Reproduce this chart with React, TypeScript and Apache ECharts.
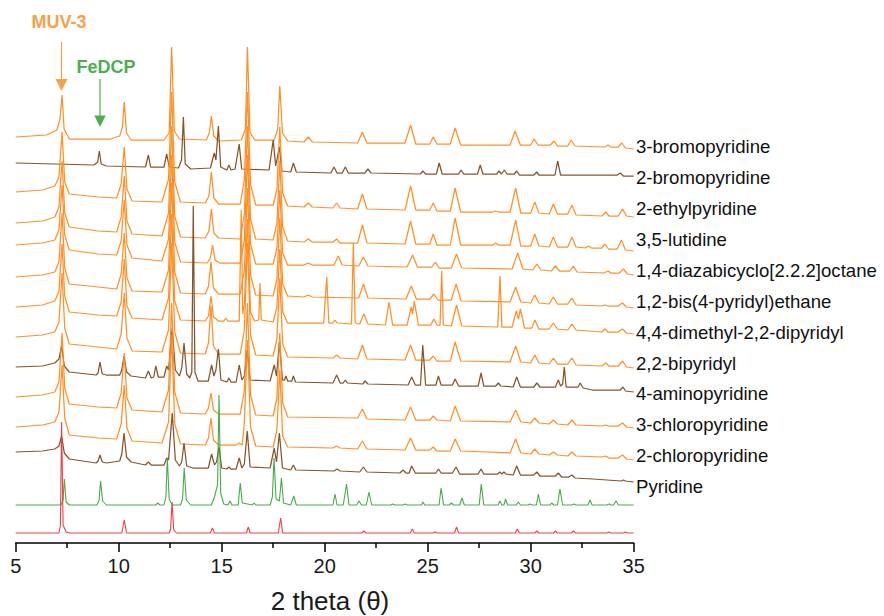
import React, { useEffect, useRef } from "react";
import * as echarts from "echarts";

// ---- data (2θ, intensity above each pattern's own zero) ----
const TRACE_NAMES = [
  "3-bromopyridine",
  "2-bromopyridine",
  "2-ethylpyridine",
  "3,5-lutidine",
  "1,4-diazabicyclo[2.2.2]octane",
  "1,2-bis(4-pyridyl)ethane",
  "4,4-dimethyl-2,2-dipyridyl",
  "2,2-bipyridyl",
  "4-aminopyridine",
  "3-chloropyridine",
  "2-chloropyridine",
  "Pyridine",
  "FeDCP (simulated)",
  "MUV-3 (simulated)",
];

// vertical stacking offset of each pattern (intensity units)
const OFFSETS = [394, 367, 326, 292, 268, 235, 209, 175, 151, 115, 83, 61, 38, 10];

const X_TICKS = [5, 10, 15, 20, 25, 30, 35];

const bromo3 = [
  5, 12, 6.5, 14, 7.0, 19, 7.15, 30, 7.25, 54, 7.35, 20, 7.6, 10, 9.6, 10,
  10.05, 13, 10.18, 22, 10.27, 47, 10.38, 16, 10.6, 9, 12.2, 9, 12.45, 16, 12.57, 102,
  12.7, 18, 12.95, 10, 14.25, 9, 14.4, 16, 14.5, 33, 14.62, 13, 14.85, 8, 15.95, 9,
  16.15, 20, 16.25, 102, 16.37, 17, 16.6, 9, 17.55, 9, 17.72, 20, 17.82, 63, 17.95, 16,
  18.2, 8, 19.0, 7, 19.2, 12, 19.4, 7, 21.6, 6, 21.83, 17, 22.05, 6, 23.9, 6,
  24.17, 24, 24.42, 5, 25.1, 5, 25.27, 12, 25.45, 5, 26.1, 5, 26.33, 21, 26.6, 4,
  29.0, 4, 29.24, 18, 29.5, 4, 30.0, 4, 30.17, 10, 30.35, 4, 30.95, 4, 31.14, 8,
  31.3, 3, 31.8, 3, 31.96, 9, 32.15, 3, 33.6, 2, 33.75, 4, 33.9, 2, 34.25, 2,
  34.42, 6, 34.6, 1, 35, 0,
];

const bromo2 = [
  5, 13, 8.8, 11, 8.98, 14, 9.06, 25, 9.15, 12, 9.4, 10, 11.3, 9, 11.44, 21,
  11.55, 9, 12.2, 9, 12.33, 22, 12.45, 9, 12.9, 8, 13.05, 16, 13.14, 59, 13.23, 12,
  13.5, 7, 14.45, 8, 14.64, 23, 14.72, 16, 14.84, 50, 14.95, 9, 15.25, 6, 15.35, 11,
  15.45, 6, 15.65, 7, 15.85, 32, 15.97, 7, 17.3, 6, 17.5, 36, 17.62, 10, 17.8, 29,
  17.92, 5, 18.35, 4, 18.48, 13, 18.62, 4, 20.3, 3, 20.45, 9, 20.6, 3, 20.85, 3,
  21.0, 9, 21.15, 3, 21.95, 3, 22.1, 7, 22.25, 3, 24.65, 2, 24.76, 5, 24.9, 2,
  25.42, 2, 25.56, 13, 25.7, 2, 26.5, 2, 26.62, 6, 26.75, 2, 27.42, 2, 27.55, 11,
  27.68, 2, 28.35, 2, 28.46, 5, 28.58, 2, 28.72, 6, 28.85, 2, 29.2, 2, 29.32, 5,
  29.45, 1, 30.15, 1, 30.29, 4, 30.4, 1, 31.18, 1, 31.31, 15, 31.45, 1, 34.2, 1,
  34.35, 3, 34.5, 0, 35, 0,
];

const ethyl2 = [
  5, 25, 6.3, 27, 6.9, 31, 7.1, 40, 7.25, 85, 7.38, 35, 7.6, 23, 9.0, 20,
  9.9, 19, 10.12, 33, 10.27, 70, 10.4, 28, 10.65, 16, 12.1, 15, 12.42, 38, 12.57, 125,
  12.72, 35, 13.0, 15, 14.2, 14, 14.38, 21, 14.5, 45, 14.62, 19, 14.85, 13, 15.9, 13,
  16.1, 37, 16.25, 125, 16.4, 33, 16.65, 12, 17.5, 12, 17.68, 28, 17.82, 90, 17.96, 24,
  18.2, 11, 19.0, 10, 19.2, 14, 19.4, 10, 20.4, 9, 20.58, 14, 20.75, 9, 21.6, 8,
  21.83, 23, 22.05, 8, 23.9, 7, 24.17, 31, 24.42, 7, 25.1, 7, 25.27, 14, 25.45, 6,
  26.1, 6, 26.33, 29, 26.6, 5, 28.15, 5, 28.3, 6, 28.45, 5, 29.0, 5, 29.27, 29,
  29.52, 4, 30.0, 4, 30.2, 15, 30.4, 4, 30.9, 3, 31.1, 13, 31.3, 3, 31.8, 3,
  32.0, 12, 32.2, 2, 33.45, 1, 33.64, 5, 33.8, 1, 34.25, 1, 34.46, 8, 34.65, 1, 35, 0,
];

const lutidine = [
  5, 28, 6.3, 30, 6.9, 34, 7.1, 44, 7.25, 90, 7.38, 38, 7.6, 24, 9.0, 20,
  9.9, 19, 10.12, 34, 10.27, 75, 10.4, 30, 10.65, 17, 12.1, 15, 12.42, 38, 12.57, 125,
  12.72, 35, 13.0, 14, 14.2, 13, 14.38, 20, 14.5, 42, 14.62, 18, 14.85, 13, 15.9, 12,
  16.1, 37, 16.25, 125, 16.4, 32, 16.65, 12, 17.5, 11, 17.68, 28, 17.82, 90, 17.96, 24,
  18.2, 10, 19.0, 9, 19.2, 12, 19.4, 9, 20.4, 9, 20.58, 12, 20.75, 8, 21.6, 8,
  21.83, 26, 22.05, 8, 23.9, 7, 24.17, 30, 24.42, 7, 25.1, 7, 25.27, 17, 25.45, 6,
  26.1, 6, 26.33, 33, 26.6, 6, 28.15, 6, 28.3, 8, 28.45, 6, 29.0, 6, 29.27, 31,
  29.52, 5, 30.0, 5, 30.2, 17, 30.4, 5, 30.9, 4, 31.1, 14, 31.3, 4, 31.8, 4,
  32.0, 14, 32.2, 4, 32.65, 3, 32.8, 5, 32.95, 3, 33.45, 3, 33.6, 7, 33.78, 2,
  34.2, 2, 34.4, 11, 34.6, 1, 35, 0,
];

const dabco = [
  5, 30, 6.3, 32, 6.9, 35, 7.1, 45, 7.25, 90, 7.38, 40, 7.6, 25, 9.0, 21,
  9.9, 20, 10.12, 34, 10.27, 75, 10.4, 30, 10.65, 17, 12.1, 14, 12.42, 36, 12.57, 120,
  12.72, 33, 13.0, 13, 14.3, 12, 14.45, 17, 14.56, 30, 14.68, 15, 14.9, 12, 15.9, 12,
  16.1, 35, 16.25, 120, 16.4, 31, 16.65, 11, 17.5, 11, 17.68, 27, 17.82, 85, 17.96, 22,
  18.2, 10, 19.0, 10, 19.2, 12, 19.4, 10, 20.45, 10, 20.66, 19, 20.85, 10, 21.65, 9,
  21.88, 18, 22.1, 9, 24.0, 8, 24.27, 20, 24.5, 8, 25.2, 8, 25.37, 13, 25.55, 7,
  26.15, 7, 26.4, 21, 26.65, 7, 29.1, 6, 29.37, 22, 29.62, 6, 30.1, 5, 30.3, 11,
  30.5, 5, 31.0, 4, 31.2, 9, 31.4, 4, 31.9, 4, 32.07, 9, 32.25, 3, 33.55, 2,
  33.75, 4, 33.9, 2, 34.3, 2, 34.5, 6, 34.7, 1, 35, 0,
];

const bisPyEthane = [
  5, 31, 6.3, 33, 6.9, 36, 7.1, 46, 7.25, 95, 7.38, 40, 7.6, 24, 9.0, 21,
  9.9, 19, 10.12, 34, 10.27, 75, 10.4, 30, 10.65, 17, 12.1, 16, 12.42, 38, 12.57, 125,
  12.72, 36, 13.0, 15, 14.2, 14, 14.36, 22, 14.48, 46, 14.6, 20, 14.85, 14, 15.9, 14,
  16.1, 38, 16.25, 120, 16.4, 33, 16.65, 13, 17.5, 12, 17.68, 29, 17.82, 90, 17.96, 24,
  18.2, 12, 19.0, 11, 19.2, 13, 19.4, 11, 21.65, 10, 21.88, 24, 22.1, 10, 23.95, 9,
  24.2, 22, 24.45, 9, 25.1, 9, 25.3, 14, 25.5, 8, 26.15, 8, 26.38, 24, 26.62, 7,
  29.0, 6, 29.27, 21, 29.52, 6, 30.0, 5, 30.2, 13, 30.4, 5, 30.9, 4, 31.1, 11,
  31.3, 4, 31.8, 4, 32.0, 10, 32.2, 3, 33.45, 2, 33.6, 3, 33.75, 2, 34.25, 2,
  34.45, 5, 34.65, 1, 35, 0,
];

const dimethylBipy = [
  5, 27, 6.3, 29, 6.9, 33, 7.1, 43, 7.25, 90, 7.38, 38, 7.6, 22, 9.0, 19,
  9.9, 18, 10.12, 32, 10.27, 75, 10.4, 28, 10.65, 16, 12.1, 14, 12.42, 36, 12.57, 120,
  12.72, 33, 13.0, 14, 14.2, 13, 14.36, 18, 14.48, 38, 14.6, 17, 14.85, 13, 15.1, 13,
  15.2, 16, 15.3, 13, 15.85, 13, 15.95, 124, 16.02, 20, 16.1, 30, 16.25, 115, 16.4, 22,
  16.6, 13, 16.8, 14, 16.86, 51, 16.92, 14, 17.5, 12, 17.68, 27, 17.82, 85, 17.96, 22,
  18.2, 11, 19.95, 11, 20.1, 57, 20.2, 11, 20.4, 11, 20.5, 14, 20.6, 11, 21.3, 10,
  21.39, 91, 21.48, 11, 21.7, 10, 21.9, 20, 22.1, 10, 22.95, 9, 23.12, 32, 23.3, 9,
  24.0, 9, 24.2, 27, 24.27, 20, 24.35, 33, 24.55, 9, 25.15, 9, 25.3, 15, 25.45, 9,
  25.6, 9, 25.68, 63, 25.76, 9, 26.15, 8, 26.4, 29, 26.65, 8, 28.4, 7, 28.51, 58,
  28.6, 7, 29.1, 7, 29.3, 23, 29.4, 15, 29.5, 25, 29.7, 6, 30.05, 6, 30.2, 14,
  30.4, 5, 30.9, 5, 31.1, 11, 31.3, 5, 31.8, 4, 32.0, 10, 32.2, 4, 33.45, 2,
  33.6, 5, 33.75, 2, 34.25, 2, 34.45, 5, 34.65, 1, 35, 0,
];

const bipy22 = [
  5, 31, 6.3, 33, 6.9, 36, 7.1, 46, 7.25, 95, 7.38, 40, 7.6, 24, 9.0, 21,
  9.9, 19, 10.12, 34, 10.27, 75, 10.4, 30, 10.65, 17, 12.1, 16, 12.42, 38, 12.57, 125,
  12.72, 36, 13.0, 15, 14.2, 14, 14.36, 25, 14.48, 62, 14.6, 22, 14.85, 14, 15.9, 14,
  16.1, 38, 16.25, 125, 16.4, 33, 16.65, 13, 17.5, 12, 17.68, 29, 17.82, 90, 17.96, 24,
  18.2, 11, 20.4, 10, 20.58, 13, 20.75, 10, 21.6, 9, 21.83, 23, 22.05, 9, 23.9, 8,
  24.17, 23, 24.42, 8, 25.1, 8, 25.27, 12, 25.45, 7, 26.1, 7, 26.33, 26, 26.6, 7,
  29.0, 6, 29.27, 22, 29.52, 6, 30.0, 5, 30.2, 13, 30.4, 5, 30.9, 4, 31.1, 10,
  31.3, 4, 31.8, 4, 32.0, 10, 32.2, 3, 33.45, 2, 33.64, 5, 33.8, 2, 34.25, 2,
  34.46, 7, 34.65, 1, 35, 0,
];

const aminoPy4 = [
  5, 25, 6.3, 26, 6.9, 29, 7.1, 33, 7.23, 46, 7.36, 26, 7.6, 20, 8.9, 17,
  9.0, 19, 9.09, 30, 9.2, 18, 9.4, 17, 10.05, 17, 10.15, 22, 10.26, 36, 10.38, 20,
  10.6, 16, 11.3, 14, 11.44, 21, 11.58, 14, 11.7, 15, 11.8, 26, 11.92, 15, 12.2, 15,
  12.33, 26, 12.42, 22, 12.6, 64, 12.75, 22, 12.95, 16, 13.06, 24, 13.17, 49, 13.3, 18,
  13.45, 14, 13.55, 20, 13.62, 186, 13.7, 20, 13.85, 11, 14.35, 11, 14.51, 27, 14.62, 16,
  14.72, 22, 14.84, 43, 14.96, 12, 15.25, 10, 15.35, 14, 15.45, 10, 15.7, 10, 15.85, 27,
  15.98, 12, 16.1, 16, 16.24, 42, 16.38, 12, 17.35, 11, 17.55, 27, 17.66, 16, 17.8, 50,
  17.95, 12, 18.05, 12, 18.12, 16, 18.2, 11, 18.4, 11, 18.48, 16, 18.58, 10, 20.4, 9,
  20.58, 17, 20.75, 9, 20.9, 9, 21.0, 12, 21.1, 9, 21.85, 8, 21.96, 11, 22.1, 8,
  24.05, 7, 24.22, 15, 24.4, 7, 24.65, 7, 24.76, 47, 24.9, 7, 25.4, 7, 25.52, 16,
  25.65, 7, 26.2, 7, 26.33, 13, 26.5, 6, 27.45, 6, 27.59, 19, 27.72, 6, 28.3, 6,
  28.43, 9, 28.55, 6, 29.15, 5, 29.32, 15, 29.5, 5, 30.15, 5, 30.3, 9, 30.45, 5,
  31.2, 5, 31.34, 12, 31.45, 6, 31.55, 8, 31.63, 25, 31.72, 5, 32.3, 5, 32.4, 9,
  32.55, 4, 33.0, 2, 34.35, 2, 34.48, 5, 34.6, 1, 35, 0,
];

const chloro3 = [
  5, 31, 6.3, 33, 6.9, 36, 7.1, 46, 7.25, 95, 7.38, 40, 7.6, 24, 9.0, 21,
  9.9, 20, 10.12, 35, 10.27, 75, 10.4, 30, 10.65, 18, 12.1, 16, 12.42, 38, 12.57, 125,
  12.72, 36, 13.0, 15, 14.2, 14, 14.36, 20, 14.48, 35, 14.6, 18, 14.85, 14, 15.9, 14,
  16.1, 38, 16.25, 125, 16.4, 33, 16.65, 13, 17.5, 12, 17.68, 30, 17.82, 95, 17.96, 25,
  18.2, 11, 21.6, 10, 21.83, 19, 22.05, 9, 23.9, 8, 24.17, 21, 24.42, 8, 25.1, 8,
  25.27, 12, 25.45, 8, 26.1, 7, 26.33, 22, 26.6, 7, 29.0, 6, 29.27, 18, 29.52, 6,
  30.0, 5, 30.2, 10, 30.4, 5, 30.9, 4, 31.1, 8, 31.3, 4, 31.8, 3, 32.0, 8,
  32.2, 3, 33.45, 2, 33.64, 3, 33.8, 2, 34.25, 2, 34.46, 5, 34.65, 1, 35, 0,
];

const chloro2 = [
  5, 33, 6.3, 35, 6.9, 38, 7.1, 48, 7.25, 95, 7.38, 42, 7.6, 25, 9.0, 22,
  9.9, 21, 10.12, 36, 10.27, 75, 10.4, 32, 10.65, 19, 12.1, 17, 12.42, 38, 12.57, 125,
  12.72, 36, 13.0, 16, 14.2, 15, 14.36, 22, 14.48, 42, 14.6, 20, 14.85, 15, 15.7, 15,
  15.85, 17, 16.0, 15, 16.1, 38, 16.25, 120, 16.4, 33, 16.65, 14, 17.5, 13, 17.68, 30,
  17.82, 90, 17.96, 24, 18.2, 13, 20.4, 12, 20.58, 14, 20.75, 12, 21.6, 11, 21.83, 19,
  22.05, 11, 23.9, 10, 24.17, 22, 24.42, 10, 25.1, 10, 25.27, 13, 25.45, 9, 26.1, 9,
  26.33, 21, 26.6, 9, 29.0, 7, 29.27, 21, 29.52, 7, 30.0, 6, 30.2, 11, 30.4, 6,
  30.9, 5, 31.1, 8, 31.3, 5, 31.8, 4, 32.0, 8, 32.2, 4, 33.45, 3, 33.64, 4,
  33.8, 2, 34.25, 2, 34.46, 5, 34.65, 1, 35, 0,
];

const pyridine = [
  5, 30, 6.3, 31, 6.9, 33, 7.1, 36, 7.23, 46, 7.36, 29, 7.6, 23, 8.9, 19,
  9.0, 21, 9.09, 27, 9.2, 20, 9.4, 19, 10.05, 21, 10.15, 28, 10.26, 49, 10.38, 25,
  10.6, 20, 11.3, 17, 11.44, 20, 11.58, 17, 12.2, 17, 12.33, 24, 12.42, 22, 12.6, 69,
  12.75, 22, 12.95, 16, 13.06, 20, 13.17, 39, 13.3, 16, 13.6, 14, 14.35, 14, 14.51, 28,
  14.65, 17, 14.75, 20, 14.87, 35, 15.0, 14, 15.25, 13, 15.35, 15, 15.45, 13, 15.7, 13,
  15.85, 24, 15.98, 14, 16.1, 18, 16.24, 51, 16.38, 15, 17.35, 14, 17.55, 34, 17.66, 20,
  17.8, 49, 17.95, 14, 18.35, 12, 18.48, 17, 18.6, 12, 20.45, 11, 20.6, 13, 20.75, 11,
  21.7, 10, 21.88, 15, 22.05, 10, 23.65, 9, 23.8, 12, 23.95, 9, 24.1, 9, 24.22, 16,
  24.4, 9, 25.4, 9, 25.52, 13, 25.65, 9, 26.2, 9, 26.38, 15, 26.55, 8, 27.45, 8,
  27.59, 13, 27.72, 8, 28.4, 8, 28.5, 10, 28.6, 8, 28.7, 10, 28.8, 8, 29.15, 7,
  29.32, 16, 29.5, 7, 30.15, 7, 30.3, 10, 30.45, 6, 31.2, 6, 31.34, 9, 31.5, 5,
  31.85, 5, 32.0, 7, 32.15, 4, 33.0, 3, 34.4, 1, 34.5, 2, 34.6, 1, 35, 0,
];

const feDcpSim = [
  5, 0, 7.2, 0, 7.3, 5, 7.36, 26, 7.45, 3, 7.6, 0, 8.95, 0, 9.05, 5,
  9.12, 24, 9.22, 4, 9.4, 0, 11.8, 0, 11.9, 2, 12.0, 0, 12.2, 0, 12.29, 8,
  12.36, 47, 12.45, 6, 12.6, 0, 13.0, 0, 13.1, 6, 13.18, 37, 13.28, 5, 13.5, 0,
  14.5, 0, 14.65, 8, 14.72, 14, 14.8, 20, 14.87, 110, 14.95, 12, 15.1, 1, 15.3, 0,
  15.4, 4, 15.5, 0, 15.8, 0, 15.9, 22, 16.0, 2, 16.5, 0, 16.57, 2, 16.65, 0,
  17.35, 0, 17.46, 8, 17.54, 47, 17.64, 6, 17.8, 4, 17.9, 27, 18.0, 2, 18.35, 0,
  18.5, 9, 18.62, 0, 20.4, 0, 20.5, 11, 20.6, 0, 20.9, 0, 21.06, 21, 21.18, 0,
  21.55, 0, 21.67, 4, 21.78, 0, 22.02, 0, 22.15, 13, 22.28, 0, 23.2, 0, 23.3, 1,
  23.4, 0, 23.8, 0, 23.9, 1, 24.0, 0, 24.7, 0, 24.77, 3, 24.85, 0, 25.55, 0,
  25.65, 17, 25.77, 0, 26.05, 0, 26.15, 2, 26.25, 0, 26.56, 0, 26.66, 7, 26.78, 0,
  27.5, 0, 27.6, 21, 27.72, 0, 28.42, 0, 28.5, 4, 28.6, 0, 28.7, 0, 28.78, 6,
  28.88, 0, 29.3, 0, 29.4, 3, 29.5, 0, 29.88, 0, 29.95, 1, 30.05, 0, 30.28, 0,
  30.37, 11, 30.48, 0, 30.95, 0, 31.02, 2, 31.12, 0, 31.3, 0, 31.42, 16, 31.55, 0,
  32.0, 0, 32.1, 1, 32.2, 0, 32.78, 0, 32.88, 5, 32.98, 0, 33.7, 0, 33.8, 1,
  33.9, 0, 34.02, 0, 34.14, 4, 34.26, 0, 35, 0,
];

const muv3Sim = [
  5, 0, 7.1, 0, 7.17, 8, 7.23, 111, 7.3, 8, 7.45, 1, 7.6, 0, 10.15, 0,
  10.27, 13, 10.38, 0, 12.45, 0, 12.52, 4, 12.59, 31, 12.67, 3, 12.8, 0, 14.45, 0,
  14.55, 5, 14.65, 0, 16.2, 0, 16.29, 6, 16.38, 0, 17.75, 0, 17.86, 15, 17.96, 0,
  21.8, 0, 21.9, 2, 22.0, 0, 24.15, 0, 24.25, 4, 24.35, 0, 25.27, 0, 25.35, 1,
  25.43, 0, 26.3, 0, 26.4, 6, 26.5, 0, 29.25, 0, 29.35, 4, 29.45, 0, 30.2, 0,
  30.3, 2, 30.4, 0, 31.1, 0, 31.2, 2, 31.3, 0, 31.97, 0, 32.07, 2, 32.17, 0,
  33.7, 0, 33.8, 1, 33.9, 0, 34.5, 0, 34.6, 1, 34.7, 0, 35, 0,
];

const TRACES = [
  bromo3, bromo2, ethyl2, lutidine, dabco, bisPyEthane, dimethylBipy,
  bipy22, aminoPy4, chloro3, chloro2, pyridine, feDcpSim, muv3Sim,
];

// ---- styles ----
const ORANGE = "#FF8A1A";
const BROWN = "#7E4C1C";
const GREEN = "#3DA83D";
const RED = "#F0343C";
const TRACE_COLORS = [
  ORANGE, BROWN, ORANGE, ORANGE, ORANGE, ORANGE, ORANGE,
  ORANGE, BROWN, ORANGE, ORANGE, BROWN, GREEN, RED,
];
const LABELLED = 12;
const LABEL_X = 636;
const LABEL_TOP = 146.7;
const LABEL_STEP = 30.9;
const FONT = '"Liberation Sans", Arial, sans-serif';

function toPairs(flat: number[], offset: number): number[][] {
  const out: number[][] = [];
  for (let i = 0; i < flat.length; i += 2) out.push([flat[i], flat[i + 1] + offset]);
  return out;
}

export default function App() {
  const ref = useRef<HTMLDivElement>(null);
  useEffect(() => {
    if (!ref.current) return;
    const chart = echarts.init(ref.current, undefined, { renderer: "svg" });

    const series = TRACES.map((t, i) => ({
      type: "line",
      name: TRACE_NAMES[i],
      data: toPairs(t, OFFSETS[i]),
      showSymbol: false,
      symbol: "none",
      smooth: false,
      silent: true,
      z: 2 + i,
      lineStyle: { color: TRACE_COLORS[i], width: i < LABELLED ? 1.25 : 1.1, opacity: 0.95 },
    }));

    const labels = TRACE_NAMES.slice(0, LABELLED).map((name, i) => ({
      type: "text",
      x: LABEL_X,
      y: LABEL_TOP + LABEL_STEP * i,
      style: {
        text: name,
        font: `18.6px ${FONT}`,
        fill: "#111",
        align: "left",
        verticalAlign: "middle",
      },
    }));

    const option = {
      animation: false,
      backgroundColor: "#ffffff",
      grid: { left: 15.7, right: 250.3, top: 40, bottom: 73, outerBoundsMode: "none" },
      xAxis: {
        type: "value",
        min: X_TICKS[0],
        max: X_TICKS[X_TICKS.length - 1],
        interval: 5,
        axisLine: { show: true, onZero: false, lineStyle: { color: "#000", width: 1.5 } },
        axisTick: { show: true, inside: false, length: 9, lineStyle: { color: "#000", width: 1.5 } },
        minorTick: { show: true, splitNumber: 2, length: 5, lineStyle: { color: "#000", width: 1.5 } },
        axisLabel: { fontSize: 20, color: "#1a1a1a", margin: 13, fontFamily: FONT },
        splitLine: { show: false },
      },
      yAxis: { type: "value", min: 0, max: 503, show: false },
      series,
      graphic: [
        ...labels,
        {
          type: "text",
          x: 330,
          y: 601,
          style: { text: "2 theta (θ)", font: `26px ${FONT}`, fill: "#1a1a1a", align: "center", verticalAlign: "middle" },
        },
        {
          type: "text",
          x: 59,
          y: 21.5,
          style: { text: "MUV-3", font: `bold 18px ${FONT}`, fill: "#F7A04A", align: "center", verticalAlign: "middle" },
        },
        { type: "line", shape: { x1: 61.5, y1: 42, x2: 61.5, y2: 80 }, style: { stroke: "#F7A04A", lineWidth: 1.2 } },
        { type: "polygon", shape: { points: [[55.5, 79], [67.5, 79], [61.5, 91]] }, style: { fill: "#F7A04A" } },
        {
          type: "text",
          x: 106,
          y: 66.5,
          style: { text: "FeDCP", font: `bold 18px ${FONT}`, fill: "#4BAE4F", align: "center", verticalAlign: "middle" },
        },
        { type: "line", shape: { x1: 100, y1: 79, x2: 100, y2: 116 }, style: { stroke: "#4BAE4F", lineWidth: 1.2 } },
        { type: "polygon", shape: { points: [[94.3, 115.5], [105.7, 115.5], [100, 127]] }, style: { fill: "#4BAE4F" } },
      ],
    };

    chart.setOption(option as any);
    return () => chart.dispose();
  }, []);

  return <div ref={ref} style={{ position: "fixed", left: 0, top: 0, width: 884, height: 616 }} />;
}
